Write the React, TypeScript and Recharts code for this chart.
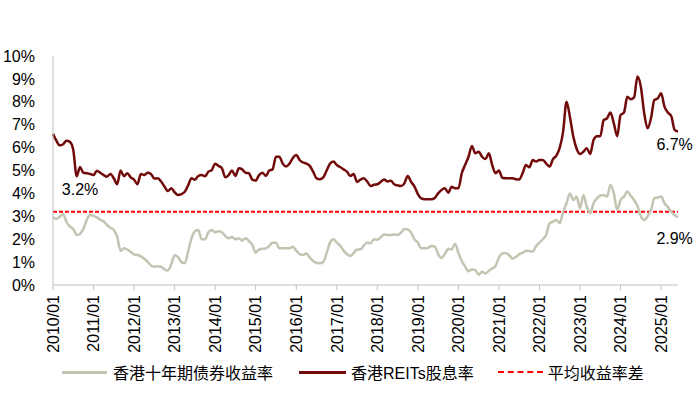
import React from 'react';
import { LineChart, Line, XAxis, YAxis, ReferenceLine, ReferenceDot } from 'recharts';

// Monthly categories 2010/01 .. 2025/06
const months: string[] = [];
for (let y = 2010; y <= 2025; y++) {
  for (let m = 1; m <= 12; m++) {
    if (y === 2025 && m > 6) break;
    months.push(`${y}/${m < 10 ? '0' + m : m}`);
  }
}

// HK 10Y government bond yield (%)
const bondYield = [
  2.98, 2.88, 2.98, 3.09, 2.75, 2.55, 2.45, 2.18, 2.23, 2.45, 2.85, 3.06,
  3.02, 2.95, 2.85, 2.77, 2.62, 2.5, 2.4, 2.1, 1.5, 1.6, 1.55, 1.45,
  1.33, 1.31, 1.25, 1.15, 1.02, 0.85, 0.8, 0.82, 0.8, 0.68, 0.63, 0.9,
  1.3, 1.22, 1.0, 0.95, 1.46, 2.04, 2.35, 2.4, 2.0, 2.0, 2.3, 2.4,
  2.3, 2.35, 2.3, 2.14, 2.04, 2.1, 2.0, 2.04, 1.94, 2.04, 1.92, 1.75,
  1.41, 1.55, 1.58, 1.6, 1.7, 1.85, 1.85, 1.6, 1.6, 1.6, 1.6, 1.67,
  1.5, 1.35, 1.31, 1.38, 1.2, 1.05, 0.97, 0.95, 1.0, 1.4, 1.85, 2.0,
  1.85, 1.72, 1.5, 1.35, 1.27, 1.4, 1.55, 1.56, 1.72, 1.85, 1.82, 2.0,
  1.98, 2.08, 2.2, 2.18, 2.18, 2.21, 2.18, 2.28, 2.45, 2.43, 2.28, 2.0,
  1.85, 1.6, 1.6, 1.62, 1.7, 1.68, 1.35, 1.18, 1.35, 1.58, 1.55, 1.8,
  1.4, 1.05, 0.8, 0.6, 0.68, 0.65, 0.45, 0.58, 0.5, 0.62, 0.72, 0.83,
  1.2, 1.38, 1.4, 1.3, 1.16, 1.22, 1.35, 1.4, 1.5, 1.48, 1.46, 1.7,
  1.85, 2.0, 2.2, 2.69, 2.77, 2.84, 2.7, 3.2, 3.57, 4.0, 3.71, 3.86,
  3.35, 3.93, 3.42, 3.13, 3.57, 3.78, 3.9, 3.93, 3.86, 4.37, 4.0, 3.28,
  3.71, 3.86, 4.08, 3.9, 3.71, 3.45, 3.0, 2.84, 3.0, 3.28, 3.78, 3.82,
  3.86, 3.57, 3.4, 3.2, 3.05, 2.95,
];

// HK REITs dividend yield (%)
const reitsYield = [
  6.6, 6.3, 6.1, 6.15, 6.3, 6.25, 5.9, 4.75, 5.15, 4.9, 4.88, 4.85,
  4.8, 4.99, 4.9, 4.8, 4.73, 4.85, 4.66, 4.4, 5.0, 4.75, 4.88, 4.7,
  4.6, 4.4, 4.85, 4.8, 4.9, 4.85, 4.65, 4.66, 4.52, 4.3, 4.1, 4.22,
  4.05, 3.93, 3.97, 4.07, 4.35, 4.66, 4.6, 4.76, 4.8, 4.75, 4.95, 5.02,
  5.3, 5.2, 5.1, 4.7, 4.8, 5.0, 4.76, 5.1, 5.05, 4.9, 4.88, 4.6,
  4.56, 4.8, 4.9, 4.76, 5.0, 5.05, 5.6, 5.6, 5.3, 5.17, 5.3, 5.55,
  5.68, 5.46, 5.35, 5.3, 5.2, 4.95, 4.66, 4.62, 4.7, 5.0, 5.3, 5.39,
  5.24, 5.15, 5.05, 4.95, 4.76, 4.85, 4.5, 4.6, 4.66, 4.52, 4.32, 4.38,
  4.4, 4.5, 4.61, 4.52, 4.55, 4.4, 4.35, 4.32, 4.44, 4.76, 4.5, 4.3,
  3.97, 3.78, 3.74, 3.74, 3.74, 3.8, 4.0, 4.15, 4.22, 4.03, 4.29, 4.22,
  4.22, 4.88, 5.25, 5.6, 6.07, 5.75, 5.82, 5.6, 5.5, 5.75, 5.24, 4.88,
  5.0, 4.68, 4.66, 4.66, 4.66, 4.62, 4.61, 4.88, 5.24, 5.14, 5.46, 5.39,
  5.46, 5.46, 5.3, 5.17, 5.5, 5.65, 6.0, 6.7, 8.0, 7.35, 6.48, 5.95,
  5.72, 5.82, 5.97, 5.72, 6.33, 6.5, 6.5, 7.2, 7.28, 7.53, 7.06, 6.5,
  7.42, 7.53, 8.22, 8.11, 8.19, 9.1, 8.66, 7.5, 6.84, 7.28, 8.08, 8.15,
  8.37, 7.79, 7.53, 7.38, 6.77, 6.7,
];

const avgSpread = 3.2;
const yTicks = [0, 1, 2, 3, 4, 5, 6, 7, 8, 9, 10];
const seriesNames = ['香港十年期债券收益率', '香港REITs股息率', '平均收益率差'];

const chartData = months.map((m, i) => ({
  month: m,
  bond: bondYield[i],
  reits: reitsYield[i],
}));

const FONT = '"Liberation Sans", Arial, "Noto Sans CJK SC", sans-serif';
const GRAY = '#c5c3b2';
const MAROON = '#720a0a';
const RED = '#ff0000';

const XTick = (props: any) => {
  const { x, y, payload } = props;
  return (
    <g transform={`translate(${x},${y})`}>
      <text
        transform="rotate(-90)"
        x={-3}
        dy="0.36em"
        textAnchor="end"
        fontSize={16}
        fill="#000"
        fontFamily={FONT}
      >
        {payload.value}
      </text>
    </g>
  );
};

const App: React.FC = () => {
  return (
    <div style={{ position: 'absolute', left: 0, top: 0, width: 700, height: 397, background: '#fff', fontFamily: FONT }}>
      <LineChart width={700} height={397} data={chartData} margin={{ top: 56, right: 22, bottom: 32, left: 0 }}>
        <XAxis
          dataKey="month"
          interval={11}
          tick={<XTick />}
          tickSize={5}
          tickLine={{ stroke: '#bfbfbf' }}
          axisLine={{ stroke: '#bfbfbf' }}
          height={80}
        />
        <YAxis
          domain={[0, 10]}
          ticks={yTicks}
          tickFormatter={(v: number) => `${v}%`}
          tick={{ fontSize: 16, fill: '#000', fontFamily: FONT }}
          tickLine={false}
          axisLine={{ stroke: '#bfbfbf' }}
          tickMargin={12}
          width={53}
          interval={0}
        />
        <ReferenceLine y={avgSpread} stroke={RED} strokeWidth={2} strokeDasharray="4 2" />
        <Line type="monotone" dataKey="bond" stroke={GRAY} strokeWidth={2.5} dot={false} isAnimationActive={false} />
        <Line type="monotone" dataKey="reits" stroke={MAROON} strokeWidth={2.5} dot={false} isAnimationActive={false} />
        <ReferenceDot x={months[8]} y={4.2} r={0} label={{ value: '3.2%', position: 'center', fontSize: 16, fill: '#000', fontFamily: FONT }} />
        <ReferenceDot x={months[184]} y={6.15} r={0} label={{ value: '6.7%', position: 'center', fontSize: 16, fill: '#000', fontFamily: FONT }} />
        <ReferenceDot x={months[184]} y={2.05} r={0} label={{ value: '2.9%', position: 'center', fontSize: 16, fill: '#000', fontFamily: FONT }} />
      </LineChart>
      {/* legend */}
      <div style={{ position: 'absolute', top: 360, left: 62, display: 'flex', alignItems: 'center', fontSize: 16, color: '#000', whiteSpace: 'nowrap' }}>
        <span style={{ display: 'inline-block', width: 45, height: 3, background: GRAY }} />
        <span style={{ marginLeft: 6 }}>{seriesNames[0]}</span>
        <span style={{ display: 'inline-block', width: 47, height: 3, background: MAROON, marginLeft: 26 }} />
        <span style={{ marginLeft: 5 }}>{seriesNames[1]}</span>
        <span style={{ display: 'inline-block', width: 45, height: 0, borderTop: `2px dashed ${RED}`, marginLeft: 24 }} />
        <span style={{ marginLeft: 5 }}>{seriesNames[2]}</span>
      </div>
    </div>
  );
};

export default App;
